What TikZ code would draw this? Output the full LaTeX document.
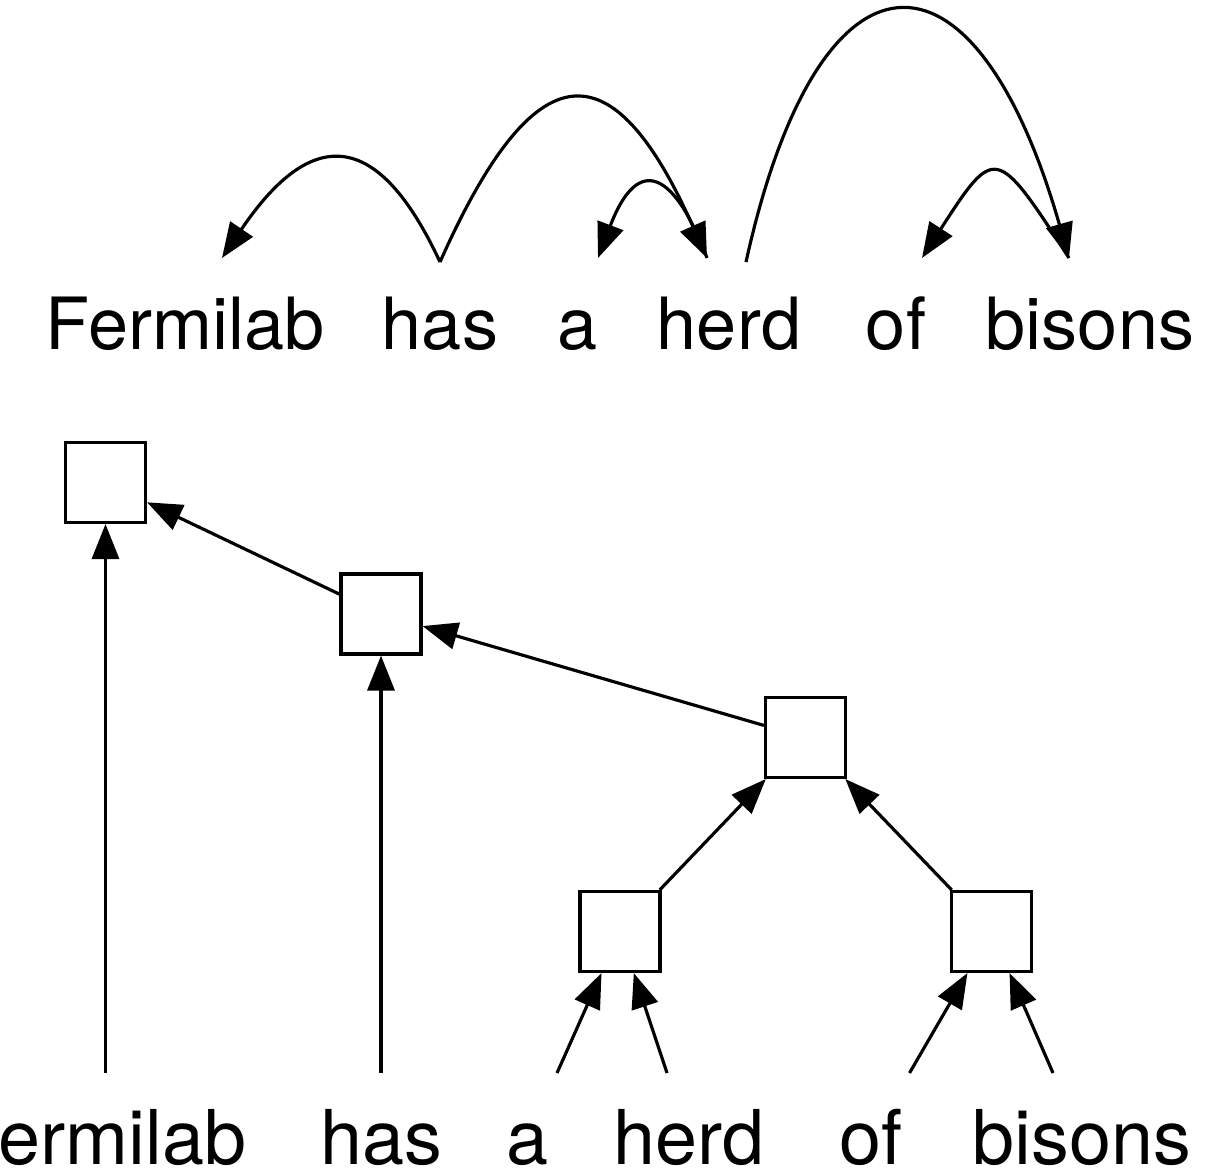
\documentclass[tikz,border=0pt]{standalone}
\usepackage{fontspec}
\setmainfont{TeX Gyre Heros}
\usetikzlibrary{arrows.meta}

\begin{document}
\begin{tikzpicture}[>={Triangle[length=0.7cm,width=0.54cm]}, line width=1.8pt,
    word/.style={font=\fontsize{41}{48}\selectfont, inner sep=0pt, anchor=base},
    leaf/.style={font=\fontsize{43}{52}\selectfont, inner sep=0pt, anchor=base},
    box/.style={draw, minimum size=1.6cm, inner sep=0pt}]
  \useasboundingbox (0,0) rectangle (24.48,23.5);

  % upper sentence with dependency arcs
  \node[word] (tFermilab) at (3.70,16.5) {Fermilab};
  \node[word] (tHas) at (8.80,16.5) {has};
  \node[word] (tA) at (11.55,16.5) {a};
  \node[word] (tHerd) at (14.58,16.5) {herd};
  \node[word] (tOf) at (17.92,16.5) {of};
  \node[word] (tBisons) at (21.80,16.5) {bisons};

  \coordinate (fermIn) at (4.44,18.34);
  \coordinate (hasOut) at (8.80,18.26);
  \coordinate (aIn) at (11.96,18.34);
  \coordinate (herdIn) at (14.14,18.34);
  \coordinate (herdOut) at (14.92,18.26);
  \coordinate (ofIn) at (18.44,18.34);
  \coordinate (bisonsIn) at (21.38,18.34);

  \draw[->] (hasOut) .. controls +(-1.24,2.66) and +(1.80,2.66) .. (fermIn);
  \draw[->] (hasOut) .. controls +(1.9,4.26) and +(-1.9,4.26) .. (herdIn);
  \draw[->] (herdIn) .. controls +(-0.74,1.94) and +(0.74,1.94) .. (aIn);
  \draw[->] (herdOut) .. controls +(1.46,6.62) and +(-1.9,6.62) .. (bisonsIn);
  \draw[->] (bisonsIn) .. controls +(-1.46,2.26) and +(1.46,2.26) .. (ofIn);

  % lower sentence with the tree
  \node[box] (root) at (2.11,13.85) {};
  \node[box] (vp) at (7.62,11.22) {};
  \node[box] (np) at (16.11,8.75) {};
  \node[box] (npL) at (12.40,4.87) {};
  \node[box] (pp) at (19.83,4.87) {};

  \node[leaf, anchor=base east] (bFerm) at (4.96,0.2) {ermilab};
  \node[leaf] (bHas) at (7.62,0.2) {has};
  \node[leaf] (bA) at (10.54,0.2) {a};
  \node[leaf] (bHerd) at (13.78,0.2) {herd};
  \node[leaf] (bOf) at (17.42,0.2) {of};
  \node[leaf] (bBisons) at (21.64,0.2) {bisons};

  \coordinate (fermFoot) at (2.11,2.04);
  \coordinate (hasFoot) at (7.62,2.04);
  \coordinate (aFoot) at (11.14,2.04);
  \coordinate (herdFoot) at (13.34,2.04);
  \coordinate (ofFoot) at (18.19,2.04);
  \coordinate (bisonsFoot) at (21.06,2.04);

  \draw[->] (fermFoot) -- (root);
  \draw[->] (hasFoot) -- (vp);
  \draw[->] (aFoot) -- (npL);
  \draw[->] (herdFoot) -- (npL);
  \draw[->] (ofFoot) -- (pp);
  \draw[->] (bisonsFoot) -- (pp);
  \draw[->] (npL) -- (np);
  \draw[->] (pp) -- (np);
  \draw[->] (np) -- (vp);
  \draw[->] (vp) -- (root);
\end{tikzpicture}
\end{document}
